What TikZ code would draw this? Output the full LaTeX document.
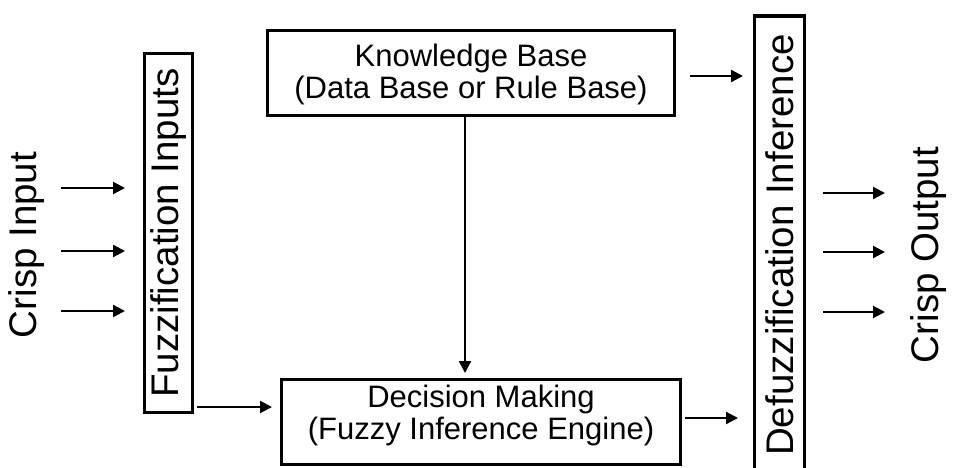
\documentclass[tikz,border=0pt]{standalone}
\usepackage{fontspec}
\setmainfont{Liberation Sans}
\usetikzlibrary{arrows.meta,calc}
\begin{document}
\begin{tikzpicture}[x=1pt,y=-1pt,
  box/.style={draw,line width=3.4pt,fill=white,inner sep=0pt},
  big/.style={font=\fontsize{38.5}{46}\selectfont},
  boxtxt/.style={font=\fontsize{31}{32}\selectfont,align=center,inner sep=0pt},
  arr/.style={line width=2.2pt,-{Triangle[length=12pt,width=12pt]}}]
\useasboundingbox (0,0) rectangle (957,467);
\clip (0,0) rectangle (957,467);
% boxes
\node[box,rotate=90,minimum width=358.6pt,minimum height=47.6pt,big] (fz) at (168.5,233) {Fuzzification Inputs};
\node[box,minimum width=406.6pt,minimum height=84.6pt] (kb) at (471,73) {};
\node[boxtxt] (kbt) at (471,74) {Knowledge Base\\(Data Base or Rule Base)};
\node[box,minimum width=398.6pt,minimum height=84.6pt] (dm) at (481,422) {};
\node[boxtxt] (dmt) at (481,415) {Decision Making\\(Fuzzy Inference Engine)};
\node[box,rotate=90,minimum width=458pt,minimum height=49.6pt,big] (df) at (779.5,245) {Defuzzification Inference};
% side labels
\node[big,rotate=90] (ci) at (27,245) {Crisp Input};
\node[big,rotate=90] (co) at (929,255) {Crisp Output};
% rows
\coordinate (i1) at (61,188);
\coordinate (i2) at (61,251);
\coordinate (i3) at (61,311);
\coordinate (r1) at (0,407);
\coordinate (r2) at (0,76);
\coordinate (r3) at (0,418);
\coordinate (c1) at (465,0);
\coordinate (o1) at (885,193);
\coordinate (o2) at (885,252);
\coordinate (o3) at (885,312);
% arrows
\draw[arr,shorten >=18pt] (i1) -- (i1 -| fz.north);
\draw[arr,shorten >=18pt] (i2) -- (i2 -| fz.north);
\draw[arr,shorten >=18pt] (i3) -- (i3 -| fz.north);
\draw[arr,shorten <=3pt,shorten >=8pt] (fz.south |- r1) -- (dm.west |- r1);
\draw[arr,shorten <=14pt,shorten >=10pt] (kb.east |- r2) -- (df.north |- r2);
\draw[arr,shorten <=3pt,shorten >=15pt] (dm.east |- r3) -- (df.north |- r3);
\draw[arr,shorten >=5pt] (kb.south -| c1) -- (dm.north -| c1);
\draw[arr,shorten <=17pt] (df.south |- o1) -- (o1);
\draw[arr,shorten <=17pt] (df.south |- o2) -- (o2);
\draw[arr,shorten <=17pt] (df.south |- o3) -- (o3);
\end{tikzpicture}
\end{document}
